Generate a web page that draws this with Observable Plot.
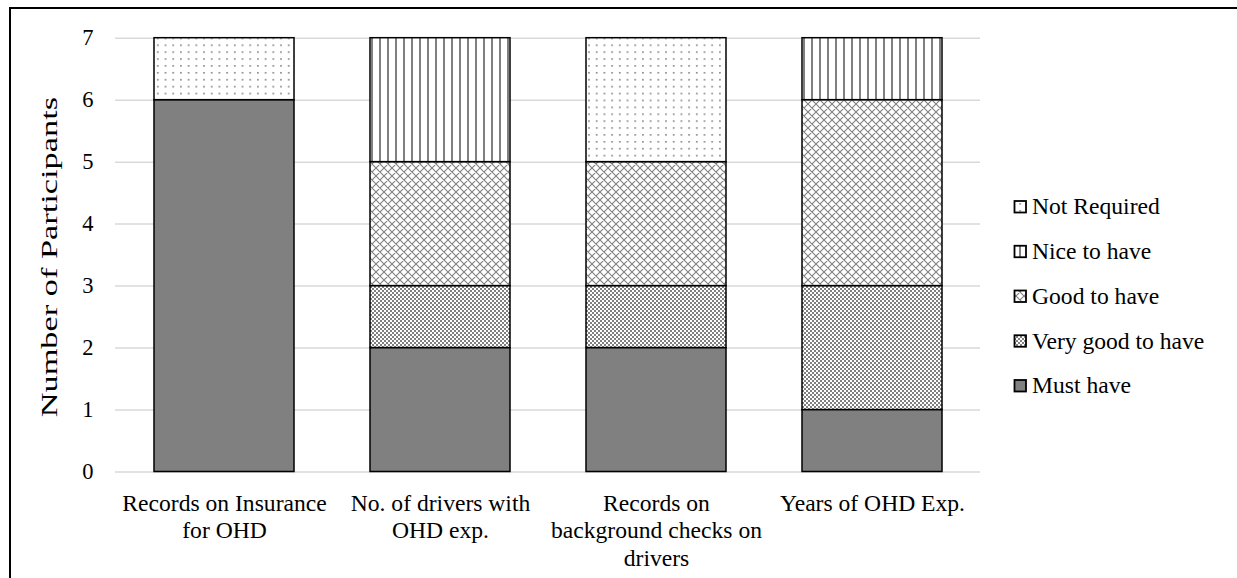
<!DOCTYPE html>
<html>
<head>
<meta charset="utf-8">
<script src="https://cdn.jsdelivr.net/npm/d3@7"></script>
<script src="https://cdn.jsdelivr.net/npm/@observablehq/plot@0.6"></script>
<style>
  html, body { margin: 0; padding: 0; overflow: hidden; background: white; }
  #page { position: relative; width: 1237px; height: 578px; overflow: hidden; }
  #border { position: absolute; left: 9px; top: 7px; width: 1400px; height: 800px; border: 2px solid black; }
  #chart { position: absolute; left: 0; top: 0; }
  #legend { position: absolute; left: 0; top: 0; }
  svg text { font-family: "Liberation Serif", "Times New Roman", serif; }
</style>
</head>
<body>
<svg width="0" height="0" style="position:absolute">
  <defs>
    <pattern id="p-vgood" width="4" height="4" patternUnits="userSpaceOnUse">
      <rect width="4" height="4" fill="white"/>
      <rect width="2" height="2" fill="#808080"/>
      <rect x="2" y="2" width="2" height="2" fill="#808080"/>
    </pattern>
    <pattern id="p-good" width="8" height="8" patternUnits="userSpaceOnUse">
      <rect width="8" height="8" fill="white"/>
      <path d="M0,0L8,8M8,0L0,8M-1,7L1,9M7,-1L9,1M-1,1L1,-1M7,9L9,7" stroke="#808080" stroke-width="1.1" fill="none"/>
    </pattern>
    <pattern id="p-nice" width="8" height="8" patternUnits="userSpaceOnUse">
      <rect width="8" height="8" fill="white"/>
      <rect x="3" y="0" width="2" height="8" fill="#808080"/>
    </pattern>
    <pattern id="p-notreq" width="7.7" height="6.9" patternUnits="userSpaceOnUse">
      <rect width="7.7" height="6.9" fill="white"/>
      <rect x="3" y="3" width="1.6" height="1.6" fill="#808080"/>
    </pattern>
  </defs>
</svg>
<div id="page">
  <div id="border"></div>
  <div id="chart"></div>
  <svg id="legend" width="1237" height="578"></svg>
</div>
<script>
// ---- data ----
const categories = [
  "Records on Insurance for OHD",
  "No. of drivers with OHD exp.",
  "Records on background checks on drivers",
  "Years of OHD Exp."
];
const tickLabels = [
  "Records on Insurance\nfor OHD",
  "No. of drivers with\nOHD exp.",
  "Records on\nbackground checks on\ndrivers",
  "Years of OHD Exp."
];
const seriesNames = ["Must have", "Very good to have", "Good to have", "Nice to have", "Not Required"];
const mustHave    = [6, 2, 2, 1];
const veryGood    = [0, 1, 1, 2];
const goodToHave  = [0, 2, 2, 3];
const niceToHave  = [0, 2, 0, 1];
const notRequired = [1, 0, 2, 0];
const yTicks = [0, 1, 2, 3, 4, 5, 6, 7];
const yTitle = "Number of Participants";

// ---- styles ----
const fills = ["#808080", "url(#p-vgood)", "url(#p-good)", "url(#p-nice)", "url(#p-notreq)"];

const seriesValues = [mustHave, veryGood, goodToHave, niceToHave, notRequired];
const rows = [];
seriesNames.forEach((s, si) => {
  categories.forEach((c, ci) => {
    const v = seriesValues[si][ci];
    if (v > 0) rows.push({category: c, series: s, value: v});
  });
});

const chart = Plot.plot({
  width: 1237,
  height: 578,
  marginLeft: 115,
  marginRight: 257,
  marginTop: 37.7,
  marginBottom: 106.5,
  style: {fontFamily: "'Liberation Serif', 'Times New Roman', serif", background: "transparent", color: "black", overflow: "visible"},
  x: {domain: categories, paddingInner: 0.353, paddingOuter: 0.1765, label: null},
  y: {domain: [0, 7], label: null},
  color: {type: "ordinal", domain: seriesNames, range: fills},
  marks: [
    Plot.ruleY(yTicks, {stroke: "#d9d9d9", strokeWidth: 1.5}),
    Plot.barY(rows, {x: "category", y: "value", fill: "series", stroke: "black", strokeWidth: 1.5, order: seriesNames}),
    Plot.axisY({ticks: yTicks, tickSize: 0, tickPadding: 22, fontSize: 22.5, label: null, tickFormat: d => String(d)}),
    Plot.axisX({tickSize: 0, tickPadding: 19, fontSize: 23.6, lineHeight: 1.174, label: null,
      tickFormat: d => tickLabels[categories.indexOf(d)]}),
    Plot.text([yTitle], {frameAnchor: "left", textAnchor: "middle", dx: -65.5, dy: 2, rotate: -90, fontSize: 22.6, text: d => d})
  ]
});
document.getElementById("chart").appendChild(chart);

// stretch the axis title along its length, as in the reference
chart.querySelectorAll("text").forEach(t => {
  if (t.textContent === yTitle) {
    const tr = t.getAttribute("transform") || "";
    t.setAttribute("transform", tr + " scale(1.52,1)");
  }
});

// ---- legend ----
const legend = d3.select("#legend");
const legendOrder = seriesNames.map((s, i) => ({name: s, fill: fills[i]})).reverse();
legendOrder.forEach((item, i) => {
  const base = 214.3 + i * 44.75;
  legend.append("rect")
    .attr("x", 1014.5).attr("y", base - 13.3)
    .attr("width", 11.5).attr("height", 11.5)
    .attr("fill", item.fill)
    .attr("stroke", "black").attr("stroke-width", 1.8);
  legend.append("text")
    .attr("x", 1032).attr("y", base)
    .attr("font-size", 23.6)
    .attr("fill", "black")
    .text(item.name);
});
</script>
</body>
</html>
